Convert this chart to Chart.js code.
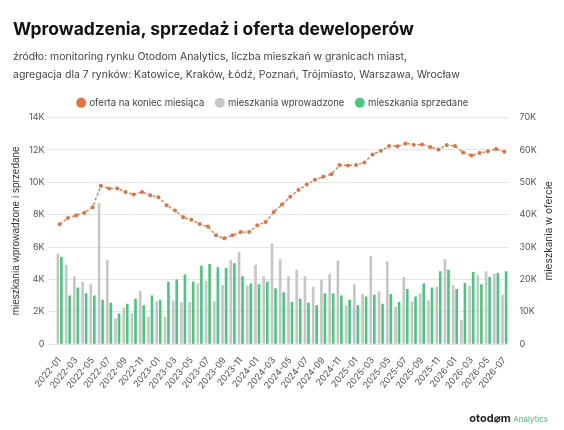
<!DOCTYPE html>
<html lang="pl">
<head>
<meta charset="UTF-8">
<script src="https://cdn.jsdelivr.net/npm/chart.js"></script>
<style>
    body { margin: 0; width: 564px; height: 430px; background: #fff; font-family: Inter, "Noto Sans", sans-serif; position: relative; overflow: hidden; }
    h1 { position: absolute; left: 13px; top: 18px; margin: 0; font-size: 17.5px; font-weight: 700; color: #111; }
    .sub { position: absolute; left: 13px; top: 48px; font-size: 10.5px; line-height: 18px; color: #444; }
    .logo { position: absolute; right: 16px; top: 411px; font-size: 11px; font-weight: 700; color: #222; }
    .logo span { font-size: 8px; font-weight: 400; color: #3cbf72; }
    #wrap { position: absolute; left: 0; top: 0; width: 564px; height: 430px; }
</style>
</head>
<body>
<div id="wrap"><canvas id="chart"></canvas></div>
<h1>Wprowadzenia, sprzedaż i oferta deweloperów</h1>
<div class="sub">źródło: monitoring rynku Otodom Analytics, liczba mieszkań w granicach miast,<br>agregacja dla 7 rynków: Katowice, Kraków, Łódź, Poznań, Trójmiasto, Warszawa, Wrocław</div>
<div class="logo">otod⌀m <span>Analytics</span></div>
<script>
// months 2022-01 .. 2026-07
const months = [];
for (let y = 2022; y <= 2026; y++) {
    for (let m = 1; m <= 12; m++) {
        if (y === 2026 && m > 7) break;
        months.push(y + '-' + String(m).padStart(2, '0'));
    }
}

// oferta na koniec miesiąca (right axis)
const offer = [37.0, 39.0, 39.8, 40.6, 42.3, 48.9, 48.1, 48.1, 47.0, 46.2, 47.0, 46.0,
    45.4, 42.9, 41.3, 39.2, 38.4, 37.1, 36.3, 33.6, 32.7, 33.6, 34.6, 34.6,
    36.7, 37.7, 40.8, 43.1, 45.5, 47.6, 49.3, 50.8, 51.7, 52.5, 55.3, 55.2,
    55.3, 56.1, 58.6, 59.7, 61.2, 61.1, 62.0, 61.6, 61.7, 60.9, 60.1, 61.5,
    61.2, 59.2, 58.3, 59.0, 59.6, 60.3, 59.4].map(v => v * 1000);

// mieszkania wprowadzone
const introduced = [5.6, 4.9, 4.2, 3.85, 3.7, 8.7, 5.2, 1.6, 2.25, 1.9, 3.3, 1.7,
    2.65, 1.7, 2.7, 2.6, 2.6, 3.75, 3.9, 2.65, 3.65, 5.2, 5.7, 3.6,
    4.9, 4.2, 6.2, 5.25, 4.2, 4.6, 4.2, 3.55, 4.0, 4.35, 5.15, 2.4,
    3.7, 3.1, 5.45, 3.25, 5.1, 2.3, 4.15, 2.65, 3.15, 2.7, 3.55, 5.25,
    3.65, 1.5, 3.6, 4.25, 4.5, 4.35, 3.05].map(v => v * 1000);

// mieszkania sprzedane
const sold = [5.4, 3.0, 3.5, 3.15, 3.0, 2.75, 2.55, 1.9, 2.5, 2.8, 2.4, 3.0,
    2.75, 3.85, 4.0, 4.3, 3.85, 4.85, 4.95, 4.75, 4.7, 5.0, 4.2, 3.75,
    3.7, 3.85, 3.45, 3.2, 2.6, 2.8, 2.55, 2.4, 3.15, 3.15, 3.0, 2.75,
    2.4, 2.95, 3.05, 2.5, 3.1, 2.6, 3.4, 2.95, 3.75, 3.5, 4.5, 4.6,
    3.4, 3.8, 4.45, 3.7, 4.15, 4.4, 4.5].map(v => v * 1000);

const fmtK = v => v === 0 ? '0' : (v / 1000) + 'K';
const tickFont = { family: 'Inter, "Noto Sans", sans-serif', size: 9 };

// right axis title reading bottom-to-top, like the left one
const rightTitle = {
    id: 'rightTitle',
    afterDraw(chart) {
        const { ctx, chartArea } = chart;
        ctx.save();
        ctx.translate(chart.width - 15, (chartArea.top + chartArea.bottom) / 2);
        ctx.rotate(-Math.PI / 2);
        ctx.textAlign = 'center';
        ctx.textBaseline = 'middle';
        ctx.fillStyle = '#333';
        ctx.font = '10px Inter, "Noto Sans", sans-serif';
        ctx.fillText('mieszkania w ofercie', 0, 0);
        ctx.restore();
    }
};

new Chart(document.getElementById('chart'), {
    data: {
        labels: months,
        datasets: [{
            type: 'line',
            label: 'oferta na koniec miesiąca',
            data: offer,
            yAxisID: 'y1',
            borderColor: '#e8703c',
            backgroundColor: '#e8703c',
            borderWidth: 1.3,
            borderDash: [3, 2],
            pointRadius: 2,
            pointBackgroundColor: '#e8703c',
            pointBorderWidth: 0,
            order: 0
        }, {
            type: 'bar',
            label: 'mieszkania wprowadzone',
            data: introduced,
            yAxisID: 'y',
            backgroundColor: '#c6c6c6',
            barPercentage: 0.75,
            categoryPercentage: 0.85,
            order: 1
        }, {
            type: 'bar',
            label: 'mieszkania sprzedane',
            data: sold,
            yAxisID: 'y',
            backgroundColor: '#45c97a',
            barPercentage: 0.75,
            categoryPercentage: 0.85,
            order: 1
        }]
    },
    options: {
        responsive: true,
        maintainAspectRatio: false,
        animation: false,
        layout: { padding: { top: 86, left: 6, right: 24, bottom: 36 } },
        plugins: {
            legend: {
                position: 'top',
                labels: {
                    usePointStyle: true,
                    pointStyle: 'circle',
                    boxWidth: 7,
                    boxHeight: 7,
                    padding: 12,
                    color: '#444',
                    font: { family: 'Inter, "Noto Sans", sans-serif', size: 9.5 }
                }
            },
            tooltip: { enabled: false }
        },
        scales: {
            x: {
                grid: { display: false },
                border: { display: false },
                ticks: {
                    color: '#555',
                    font: tickFont,
                    autoSkip: false,
                    maxRotation: 50,
                    minRotation: 50,
                    callback: function (v, i) { return i % 2 === 0 ? months[i] : ''; }
                }
            },
            y: {
                position: 'left',
                min: 0, max: 14000,
                ticks: { stepSize: 2000, color: '#555', font: tickFont, callback: fmtK },
                grid: { color: '#e6e6e6' },
                border: { display: false },
                title: { display: true, text: 'mieszkania wprowadzone i sprzedane', color: '#333', font: { size: 10 } }
            },
            y1: {
                position: 'right',
                min: 0, max: 70000,
                ticks: { stepSize: 10000, color: '#555', font: tickFont, callback: fmtK },
                grid: { display: false },
                border: { display: false }
            }
        }
    },
    plugins: [rightTitle]
});
</script>
</body>
</html>
